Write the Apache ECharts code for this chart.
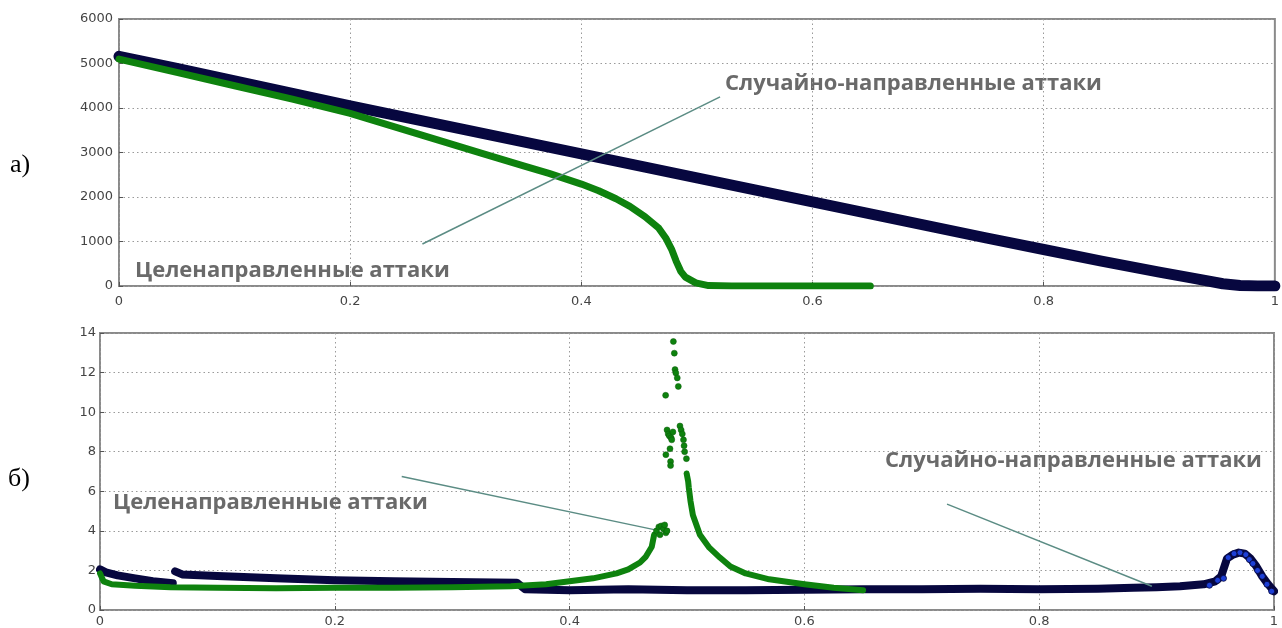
<!DOCTYPE html>
<html>
<head>
<meta charset="utf-8">
<script src="https://cdn.jsdelivr.net/npm/echarts@6/dist/echarts.min.js"></script>
<style>
html,body{margin:0;padding:0;background:#fff;}
#c{width:1282px;height:628px;}
</style>
</head>
<body>
<div id="c"></div>
<script>
// ---- tick labels ----
const xTickLabels = ['0', '0.2', '0.4', '0.6', '0.8', '1'];

// ---- (а) top chart: size of giant component ----
const topRandomX = [0, 0.05, 0.1, 0.15, 0.2, 0.25, 0.3, 0.35, 0.4, 0.45, 0.5, 0.55, 0.6, 0.65, 0.7, 0.75, 0.8, 0.85, 0.9, 0.93, 0.955, 0.97, 0.985, 1.0];
const topRandomY = [5160, 4890, 4610, 4330, 4050, 3780, 3510, 3240, 2970, 2700, 2430, 2160, 1890, 1620, 1350, 1080, 820, 560, 310, 170, 50, 10, 0, 0];

const topTargetX = [0, 0.05, 0.1, 0.15, 0.2, 0.257, 0.314, 0.35, 0.372, 0.4, 0.415, 0.43, 0.442, 0.455, 0.467, 0.473, 0.478, 0.482, 0.486, 0.49, 0.499, 0.51, 0.53, 0.65];
const topTargetY = [5100, 4800, 4500, 4200, 3880, 3430, 2980, 2700, 2530, 2290, 2140, 1960, 1790, 1560, 1300, 1080, 830, 560, 330, 200, 70, 10, 0, 0];

// ---- (б) bottom chart ----
const botRandomX = [0, 0.005, 0.015, 0.03, 0.045, 0.062, null, 0.064, 0.07, 0.1, 0.15, 0.2, 0.25, 0.3, 0.355, 0.362, 0.4, 0.45, 0.5, 0.55, 0.6, 0.65, 0.7, 0.75, 0.8, 0.85, 0.88, 0.9, 0.92, 0.94, 0.95, 0.955, 0.96, 0.965, 0.97, 0.975, 0.98, 0.985, 0.99, 0.995, 1.0];
const botRandomY = [2.05, 1.9, 1.75, 1.6, 1.45, 1.35, null, 1.95, 1.8, 1.72, 1.6, 1.5, 1.45, 1.42, 1.38, 1.05, 1.0, 1.05, 1.0, 1.0, 1.02, 1.05, 1.05, 1.07, 1.05, 1.08, 1.12, 1.15, 1.2, 1.3, 1.45, 1.7, 2.6, 2.8, 2.9, 2.85, 2.6, 2.2, 1.7, 1.3, 0.95];

const botRandomDotsX = [0.945, 0.952, 0.957, 0.961, 0.966, 0.971, 0.976, 0.979, 0.982, 0.986, 0.99, 0.994, 0.998];
const botRandomDotsY = [1.25, 1.5, 1.6, 2.65, 2.85, 2.9, 2.8, 2.55, 2.35, 2.0, 1.7, 1.3, 0.95];

const botTargetX = [0, 0.003, 0.01, 0.03, 0.06, 0.1, 0.15, 0.2, 0.25, 0.3, 0.35, 0.38, 0.4, 0.42, 0.44, 0.45, 0.46, 0.465, 0.47, 0.472, null, 0.4997, 0.501, 0.5015, 0.503, 0.505, 0.511, 0.519, 0.528, 0.537, 0.55, 0.57, 0.6, 0.625, 0.65];
const botTargetY = [1.85, 1.45, 1.3, 1.22, 1.15, 1.12, 1.1, 1.12, 1.12, 1.15, 1.2, 1.3, 1.45, 1.6, 1.85, 2.05, 2.4, 2.7, 3.2, 3.8, null, 6.9, 6.5, 6.2, 5.5, 4.8, 3.8, 3.15, 2.65, 2.2, 1.85, 1.55, 1.3, 1.12, 1.0];

const botPeakX = [0.474, 0.476, 0.478, 0.48, 0.482, 0.477, 0.481, 0.483, 0.482, 0.4855, 0.486, 0.486, 0.483, 0.484, 0.485, 0.4865, 0.488, 0.487, 0.494, 0.495, 0.496, 0.497, 0.4975, 0.498, 0.4995, 0.4818, 0.4884, 0.4892, 0.4898, 0.4905, 0.4917, 0.4926];
const botPeakY = [4.0, 4.2, 4.25, 4.1, 3.9, 3.8, 4.3, 4.0, 7.85, 8.15, 7.5, 7.3, 9.1, 8.9, 8.8, 8.7, 9.0, 8.6, 9.3, 9.1, 8.9, 8.6, 8.3, 8.0, 7.65, 10.85, 13.57, 12.98, 12.15, 11.98, 11.73, 11.3];

// ---- annotations (text + pointer lines in data coords) ----
const labelRandom = 'Случайно-направленные аттаки';
const labelTarget = 'Целенаправленные аттаки';
const topPointerTarget = [[0.2625, 944], [0.52, 4250]];
const botPointerTarget = [[0.257, 6.75], [0.473, 4.05]];
const botPointerRandom = [[0.7215, 5.35], [0.896, 1.2]];

function zip(xs, ys) { return xs.map((x, i) => (x === null ? [null, null] : [x, ys[i]])); }

const NAVY = '#07073f';
const GREEN = '#0e820e';
const GRID_C = '#9a9a9a';
const ANN_C = '#5b8c84';

function xAxisCfg(gi) {
  return {
    gridIndex: gi, type: 'value', min: 0, max: 1, interval: 0.2,
    axisLine: { show: false },
    axisTick: { show: true, inside: true, length: 4, lineStyle: { color: '#555' } },
    axisLabel: {
      margin: gi === 0 ? 9 : 5, fontSize: 13, color: '#444', fontFamily: 'DejaVu Sans',
      formatter: (v) => xTickLabels[Math.round(v / 0.2)]
    },
    splitLine: { show: true, lineStyle: { color: GRID_C, type: [1.5, 3], width: 1 } }
  };
}
function yAxisCfg(gi, max, interval) {
  return {
    gridIndex: gi, type: 'value', min: 0, max: max, interval: interval,
    axisLine: { show: false },
    axisTick: { show: true, inside: true, length: 4, lineStyle: { color: '#555' } },
    axisLabel: { margin: gi === 0 ? 6 : 4, fontSize: 13, color: '#444', fontFamily: 'DejaVu Sans',
      formatter: (v) => String(v) },
    splitLine: { show: true, lineStyle: { color: GRID_C, type: [1.5, 3], width: 1 } }
  };
}
function pointer(coords) {
  return {
    silent: true, symbol: ['none', 'none'], animation: false,
    label: { show: false },
    lineStyle: { color: ANN_C, width: 1.5, type: 'solid' },
    data: [[{ coord: coords[0] }, { coord: coords[1] }]]
  };
}

const annFont = 'bold 22px "Open Sans"';
const chart = echarts.init(document.getElementById('c'), null, { renderer: 'canvas' });
chart.setOption({
  animation: false,
  backgroundColor: '#ffffff',
  grid: [
    { left: 119, top: 19, width: 1158, height: 267, show: true, borderColor: '#8a8a8a', borderWidth: 2, backgroundColor: 'transparent' },
    { left: 100, top: 333, width: 1174, height: 280, show: true, borderColor: '#8a8a8a', borderWidth: 2, backgroundColor: 'transparent' }
  ],
  xAxis: [xAxisCfg(0), xAxisCfg(1)],
  yAxis: [yAxisCfg(0, 6000, 1000), yAxisCfg(1, 14, 2)],
  series: [
    { type: 'line', xAxisIndex: 0, yAxisIndex: 0, data: zip(topRandomX, topRandomY), showSymbol: false, z: 3,
      lineStyle: { color: NAVY, width: 11, cap: 'round', join: 'round' } },
    { type: 'line', xAxisIndex: 0, yAxisIndex: 0, data: zip(topTargetX, topTargetY), showSymbol: false, z: 4,
      lineStyle: { color: GREEN, width: 7, cap: 'round', join: 'round' },
      markLine: pointer(topPointerTarget) },
    { type: 'line', xAxisIndex: 1, yAxisIndex: 1, data: zip(botRandomX, botRandomY), showSymbol: false, z: 3, connectNulls: false,
      lineStyle: { color: NAVY, width: 8, cap: 'round', join: 'round' },
      markLine: pointer(botPointerRandom) },
    { type: 'scatter', xAxisIndex: 1, yAxisIndex: 1, data: zip(botRandomDotsX, botRandomDotsY), z: 3.5, symbolSize: 6,
      itemStyle: { color: '#1d3fd6', borderColor: '#05053a', borderWidth: 0.8, opacity: 1 } },
    { type: 'line', xAxisIndex: 1, yAxisIndex: 1, data: zip(botTargetX, botTargetY), showSymbol: false, z: 4, connectNulls: false,
      lineStyle: { color: GREEN, width: 6, cap: 'round', join: 'round' },
      markLine: pointer(botPointerTarget) },
    { type: 'scatter', xAxisIndex: 1, yAxisIndex: 1, data: zip(botPeakX, botPeakY), z: 5, symbolSize: 6,
      itemStyle: { color: GREEN, borderColor: '#0a5a0a', borderWidth: 0.5, opacity: 1 } }
  ],
  graphic: [
    { type: 'text', left: 10, top: 152, style: { text: 'а)', font: '26px "Liberation Serif"', fill: '#000' } },
    { type: 'text', left: 8, top: 466, style: { text: 'б)', font: '26px "Liberation Serif"', fill: '#000' } },
    { type: 'text', x: 135, y: 271, style: { text: labelTarget, font: annFont, fill: '#6a6a6a', textVerticalAlign: 'middle' } },
    { type: 'text', x: 725, y: 84, style: { text: labelRandom, font: annFont, fill: '#6a6a6a', textVerticalAlign: 'middle' } },
    { type: 'text', x: 113, y: 503, style: { text: labelTarget, font: annFont, fill: '#6a6a6a', textVerticalAlign: 'middle' } },
    { type: 'text', x: 885, y: 461, style: { text: labelRandom, font: annFont, fill: '#6a6a6a', textVerticalAlign: 'middle' } }
  ]
});
</script>
</body>
</html>
